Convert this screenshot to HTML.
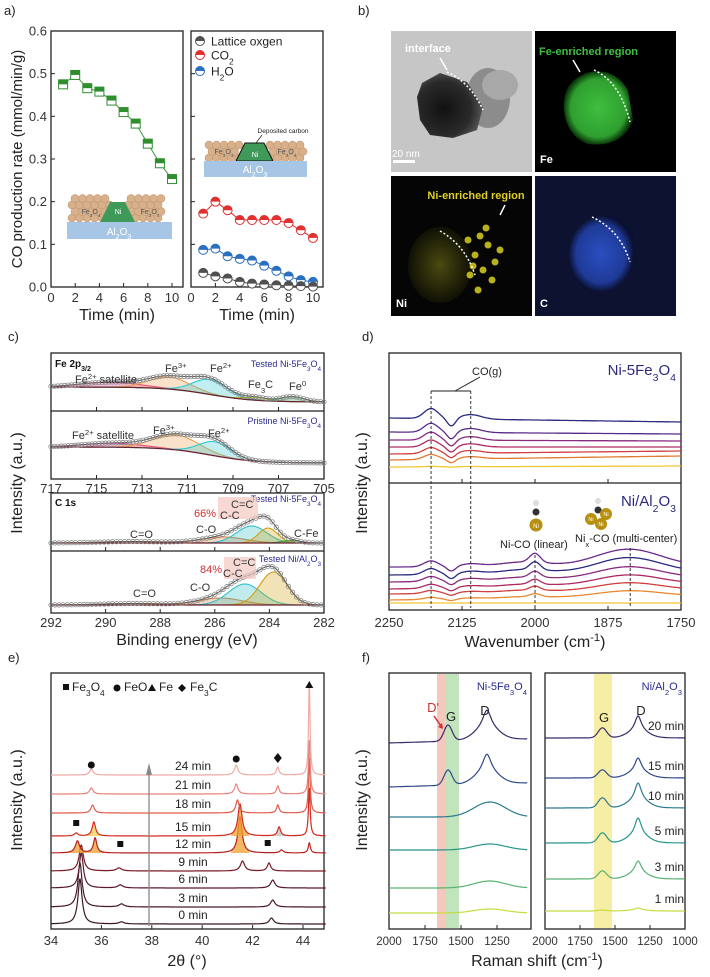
<!DOCTYPE html>
<html><head><meta charset="utf-8"><style>
html,body{margin:0;padding:0;background:#fff;}
svg{display:block;font-family:"Liberation Sans",Arial,sans-serif;}
</style></head><body>
<svg id="fig" width="710" height="977" viewBox="0 0 710 977" xmlns="http://www.w3.org/2000/svg">
<defs>
<radialGradient id="gTem" cx="0.4" cy="0.55" r="0.6"><stop offset="0" stop-color="#111"/><stop offset="0.7" stop-color="#2a2a2a"/><stop offset="1" stop-color="#555"/></radialGradient>
<radialGradient id="gFe" cx="0.5" cy="0.5" r="0.5"><stop offset="0" stop-color="#3fbf3f"/><stop offset="0.8" stop-color="#2f9f2f"/><stop offset="1" stop-color="#0a3a0a"/></radialGradient>
<radialGradient id="gC" cx="0.5" cy="0.5" r="0.5"><stop offset="0" stop-color="#2a4fc0"/><stop offset="0.75" stop-color="#1f3a98"/><stop offset="1" stop-color="#0a1030"/></radialGradient>
<radialGradient id="gNi" cx="0.5" cy="0.5" r="0.5"><stop offset="0" stop-color="#4a4a10"/><stop offset="1" stop-color="#101005"/></radialGradient>
</defs>
</svg>
<script>
const NS='http://www.w3.org/2000/svg';
const svg=document.getElementById('fig');
function mk(tag,attrs,parent){const e=document.createElementNS(NS,tag);for(const k in attrs)e.setAttribute(k,attrs[k]);(parent||svg).appendChild(e);return e;}
const sub=s=>`<tspan baseline-shift="sub" font-size="70%">${s}</tspan>`;
const sup=s=>`<tspan baseline-shift="super" font-size="70%">${s}</tspan>`;
function T(x,y,html,size,anchor,fill,extra){const e=mk('text',Object.assign({x:x,y:y,'font-size':size||13,'text-anchor':anchor||'start',fill:fill||'#222'},extra||{}));e.innerHTML=html;return e;}
function P(pts){return pts.map((p,i)=>(i?'L':'M')+p[0].toFixed(1)+' '+p[1].toFixed(1)).join(' ');}
const gauss=(x,c,s)=>Math.exp(-0.5*((x-c)/s)*((x-c)/s));
const lor=(x,c,w)=>1/(1+((x-c)/w)*((x-c)/w));

/* ================= DATA ================= */
const aTimes=[1,2,3,4,5,6,7,8,9,10];
const aNiFe=[0.475,0.497,0.466,0.458,0.437,0.41,0.383,0.336,0.29,0.253];
const aCO2=[0.172,0.2,0.18,0.157,0.157,0.157,0.157,0.15,0.133,0.115];
const aH2O=[0.087,0.09,0.072,0.066,0.062,0.05,0.038,0.025,0.016,0.012];
const aLattice=[0.033,0.025,0.02,0.012,0.008,0.006,0.004,0.003,0.002,0.001];
const aYTicks=[0,0.1,0.2,0.3,0.4,0.5,0.6];
const aXTicks=[0,2,4,6,8,10];

const feTestedPeaks=[[714.4,5,1.3],[711.8,12,0.9],[710.0,15,0.75],[708.0,3,0.5],[706.4,5,0.5]];
const fePristinePeaks=[[714.3,4,1.3],[711.5,15,1.0],[709.8,14,0.7]];
const cTestedPeaks=[[289.0,1.5,1.2],[285.7,6,0.8],[284.65,17,0.55],[284.05,15,0.35],[283.2,2.5,0.35]];
const cNiAlPeaks=[[289.0,1.5,1.2],[285.8,7,0.8],[284.9,21,0.6],[283.85,33,0.5]];
const feTicks=[717,715,713,711,709,707,705];
const cTicks=[292,290,288,286,284,282];

const dTopTraces=[[418,422,10,0,0],[432,434,9,0,0],[440,441,8,0,0],[447,447,7,0,0],[454,451,6,0,0],[460,456,5,0,0],[467,466,0.5,0,0]];
const dBotTraces=[[567,566,6,9,17],[575,572,6,8,15],[582,578,5,6,12],[589,584,4,5,10],[594,590,3,4,8],[600,596,2,3,6],[603,603,0,0,0]];
const dTicks=[2250,2125,2000,1875,1750];

const eLabels=['0 min','3 min','6 min','9 min','12 min','15 min','18 min','21 min','24 min'];
const eBaselines=[924,907,888,871,853,836,813,794,775];
const ePeaks=[
 [[35.15,45,0.1],[36.8,2,0.12],[42.75,6,0.1]],
 [[35.15,44,0.1],[36.8,3,0.12],[42.8,7,0.1]],
 [[35.2,35,0.1],[36.75,3,0.12],[42.8,8,0.1]],
 [[35.2,26,0.1],[36.7,3,0.12],[41.6,10,0.1],[42.65,8,0.08]],
 [[35.05,12,0.1],[35.75,15,0.08],[41.5,36,0.1],[43.15,3,0.08],[44.25,10,0.05]],
 [[35.0,3,0.08],[35.7,14,0.08],[41.5,32,0.1],[43.05,9,0.07],[44.25,48,0.04]],
 [[35.65,8,0.08],[41.4,13,0.08],[43.0,8,0.06],[44.25,55,0.04]],
 [[35.6,6,0.08],[41.35,10,0.08],[43.0,8,0.06],[44.25,54,0.04]],
 [[35.6,6,0.08],[41.35,10,0.08],[43.0,8,0.06],[44.25,92,0.035]]];
const eTicks=[34,36,38,40,42,44];

const fLabels=['20 min','15 min','10 min','5 min','3 min','1 min'];
const fLeftBase=[743,787,817,850,888,913];
const fLeftG=[16,15,3,1,1,1];
const fLeftD=[30,30,15,6,7,4];
const fRightBase=[738,778,808,843,879,911];
const fRightG=[10,8,10,10,8,1];
const fRightD=[22,20,25,25,18,3];
const fTicksL=[2000,1750,1500,1250];
const fTicksR=[2000,1750,1500,1250,1000];

/* ================= PANEL LETTERS ================= */
[['a)',4,15],['b)',358,15],['c)',8,341],['d)',362,341],['e)',8,662],['f)',362,662]].forEach(l=>{
  const t=T(l[1],l[2],l[0],13,'start','#222');
  
  
});

function box(x,y,w,h,name){const r=mk('rect',{x:x,y:y,width:w,height:h,fill:'none',stroke:'#222','stroke-width':1.3});
  
  return r;}
function ylabel(x,y,s,name,size){const t=T(x,y,s,size||16,'middle','#222',{transform:`rotate(-90 ${x} ${y})`});
  
  }

/* ================= PANEL A ================= */
const ay=v=>287-v/0.6*256;
const axL=t=>51+t*12.1, axR=t=>191+t*12.2;
box(51,31,132,256,'panel-a-left-frame');
box(191,31,132,256,'panel-a-right-frame');
aYTicks.forEach(v=>{
  mk('line',{x1:51,y1:ay(v),x2:55,y2:ay(v),stroke:'#222'});
  mk('line',{x1:191,y1:ay(v),x2:195,y2:ay(v),stroke:'#222'});
  const t=T(47,ay(v)+4.5,v.toFixed(1),13,'end','#333');
  
  
});
aXTicks.forEach(v=>{
  mk('line',{x1:axL(v),y1:287,x2:axL(v),y2:283,stroke:'#222'});
  mk('line',{x1:axR(v),y1:287,x2:axR(v),y2:283,stroke:'#222'});
  let t=T(axL(v),302,String(v),13,'middle','#333');
  
  
  t=T(axR(v),302,String(v),13,'middle','#333');
  
  
});
[[117,'a-left-x-title'],[257,'a-right-x-title']].forEach(o=>{const t=T(o[0],320,'Time (min)',16,'middle','#222');
  
  });
ylabel(22,159,'CO production rate (mmol/min/g)','a-y-axis-title',15);

function spheres(x0,x1,y,rows){for(let r=0;r<rows;r++){for(let x=x0+(r%2)*3;x<=x1;x+=7.5){mk('circle',{cx:x,cy:y-r*6.5,r:4,fill:'#d8b08a',stroke:'#b89070','stroke-width':0.5});}}}
const insL=mk('g',{});


spheres(72,110,218,4);spheres(128,165,218,4);
mk('path',{d:'M100 222 L110 202 L125 202 L135 222 Z',fill:'#3f9a5a'});
mk('rect',{x:67,y:222,width:105,height:17,fill:'#a7c6e6'});
T(119,235,'Al'+sub('2')+'O'+sub('3'),10,'middle','#fff');
T(91,214,'Fe'+sub('3')+'O'+sub('4'),7,'middle','#555');
T(150,214,'Fe'+sub('3')+'O'+sub('4'),7,'middle','#555');
T(118,214,'Ni',7,'middle','#fff');
spheres(209,240,158,3);spheres(270,303,158,3);
mk('path',{d:'M236 161 L245 143 L264 143 L273 161 Z',fill:'#3f9a5a',stroke:'#111','stroke-width':1});
mk('rect',{x:204,y:161,width:103,height:16,fill:'#a7c6e6'});
T(255,173,'Al'+sub('2')+'O'+sub('3'),10,'middle','#fff');
T(224,154,'Fe'+sub('3')+'O'+sub('4'),7,'middle','#555');
T(287,154,'Fe'+sub('3')+'O'+sub('4'),7,'middle','#555');
T(255,157,'Ni',7,'middle','#fff');
T(283,133,'Deposited carbon',6.5,'middle','#222');
mk('line',{x1:262,y1:135,x2:256,y2:143,stroke:'#222','stroke-width':0.7});

function lineSeries(xs,ys,xf,color,name){const p=mk('path',{d:P(xs.map((t,i)=>[xf(t),ay(ys[i])])),fill:'none',stroke:color,'stroke-width':1});
  
  }
function halfCircle(cx,cy,color,name){const g=mk('g',{});
  
  
  mk('circle',{cx:cx,cy:cy,r:4.5,fill:'#fff',stroke:color,'stroke-width':1},g);
  mk('path',{d:`M${cx-4.5} ${cy} A4.5 4.5 0 0 1 ${cx+4.5} ${cy} Z`,fill:color},g);}
lineSeries(aTimes,aNiFe,axL,'#3a9a3a','ni-fe3o4-line');
aTimes.forEach((t,i)=>{const x=axL(t),y=ay(aNiFe[i]);const g=mk('g',{});
  
  
  mk('rect',{x:x-4.5,y:y-4.5,width:9,height:9,fill:'#fff',stroke:'#2f8f2f','stroke-width':1},g);
  mk('rect',{x:x-4.5,y:y-4.5,width:9,height:4.5,fill:'#2f8f2f'},g);});
const rSeries=[[aCO2,'#e03030','co2'],[aH2O,'#2a6fc0','h2o'],[aLattice,'#505050','lattice-oxygen']];
rSeries.forEach(s=>{lineSeries(aTimes,s[0],axR,s[1],s[2]+'-line');
  aTimes.forEach((t,i)=>halfCircle(axR(t),ay(s[0][i]),s[1],s[2]+'-point'));});
[[41,'#505050','Lattice oxgen','legend-lattice-oxygen'],[55,'#e03030','CO'+sub('2'),'legend-co2'],[71,'#2a6fc0','H'+sub('2')+'O','legend-h2o']].forEach(l=>{
  halfCircle(200,l[0],l[1],l[3]+'-marker');
  const t=T(211,l[0]+4.5,l[2],12,'start','#222');
  
  });

/* ================= PANEL B ================= */
const bTem=mk('g',{});


mk('rect',{x:391,y:31,width:141,height:141,fill:'#c6c6c6'},bTem);
mk('ellipse',{cx:488,cy:98,rx:22,ry:30,fill:'#8c8c8c'},bTem);
mk('ellipse',{cx:500,cy:85,rx:18,ry:15,fill:'#a8a8a8'},bTem);
mk('path',{d:'M422 83 L440 73 L467 82 L483 107 L477 130 L453 138 L430 135 L420 120 L417 97 Z',fill:'url(#gTem)'},bTem);
mk('path',{d:'M447 72 Q470 82 483 110',fill:'none',stroke:'#fff','stroke-width':1.5,'stroke-dasharray':'2 2'},bTem);
mk('rect',{x:393,y:160,width:22,height:3,fill:'#fff'},bTem);
T(392,157,'20 nm',10,'start','#fff');
T(405,52,'interface',11,'start','#fff',{'font-weight':'bold'});
mk('line',{x1:440,y1:58,x2:447,y2:70,stroke:'#fff','stroke-width':1.5},bTem);

const bFe=mk('g',{});


mk('rect',{x:535,y:31,width:141,height:141,fill:'#000'},bFe);
mk('path',{d:'M564 110 Q562 80 590 72 Q615 68 628 90 L633 120 Q622 148 588 144 Q566 135 564 110 Z',fill:'url(#gFe)'},bFe);
mk('path',{d:'M594 70 Q620 82 630 122',fill:'none',stroke:'#fff','stroke-width':1.5,'stroke-dasharray':'2 2'},bFe);
T(539,55,'Fe-enriched region',11,'start','#3fbf3f',{'font-weight':'bold'});
mk('line',{x1:573,y1:60,x2:580,y2:72,stroke:'#fff','stroke-width':1.5},bFe);
T(540,163,'Fe',11,'start','#fff',{'font-weight':'bold'});

const bNi=mk('g',{});


mk('rect',{x:391,y:176,width:141,height:140,fill:'#050505'},bNi);
mk('ellipse',{cx:440,cy:265,rx:32,ry:38,fill:'url(#gNi)'},bNi);
[[480,236],[488,245],[475,255],[495,262],[483,270],[470,275],[492,280],[478,290],[500,250],[468,240],[486,228],[473,266]].forEach(p=>mk('circle',{cx:p[0],cy:p[1],r:3.5,fill:'#d8d020',opacity:0.85},bNi));
mk('path',{d:'M440 231 Q465 245 475 275',fill:'none',stroke:'#fff','stroke-width':1.5,'stroke-dasharray':'2 2'},bNi);
T(476,199,'Ni-enriched region',11,'middle','#e0d020',{'font-weight':'bold'});
mk('line',{x1:505,y1:205,x2:500,y2:215,stroke:'#fff','stroke-width':1.5},bNi);
T(396,307,'Ni',11,'start','#fff',{'font-weight':'bold'});

const bC=mk('g',{});


mk('rect',{x:535,y:176,width:141,height:140,fill:'#0c1230'},bC);
mk('path',{d:'M568 255 Q570 225 598 216 Q625 212 634 235 L634 265 Q622 295 592 292 Q570 284 568 255 Z',fill:'url(#gC)'},bC);
mk('path',{d:'M592 217 Q620 230 630 262',fill:'none',stroke:'#fff','stroke-width':1.5,'stroke-dasharray':'2 2'},bC);
T(540,307,'C',11,'start','#fff',{'font-weight':'bold'});

/* ================= PANEL C ================= */
box(51,353,273,126,'c-fe-frame');
mk('line',{x1:51,y1:411,x2:324,y2:411,stroke:'#222','stroke-width':1.2});
box(51,493,273,120,'c-c1s-frame');
mk('line',{x1:51,y1:551,x2:324,y2:551,stroke:'#222','stroke-width':1.2});
const xFe=E=>51+(717-E)/12*273, xC=E=>51+(292-E)/10*273;
feTicks.forEach(v=>{mk('line',{x1:xFe(v),y1:479,x2:xFe(v),y2:475,stroke:'#222'});mk('line',{x1:xFe(v),y1:411,x2:xFe(v),y2:407,stroke:'#222'});
  const t=T(xFe(v),493,String(v),13,'middle','#333');
  
  });
cTicks.forEach(v=>{mk('line',{x1:xC(v),y1:613,x2:xC(v),y2:609,stroke:'#222'});mk('line',{x1:xC(v),y1:551,x2:xC(v),y2:547,stroke:'#222'});
  const t=T(xC(v),627,String(v),13,'middle','#333');
  
  });
let tt=T(187,645,'Binding energy (eV)',16,'middle','#222');


ylabel(22,483,'Intensity (a.u.)','c-y-axis-title');
const feColors=['#e0308a','#f0a050','#30c8d0','#b0b020','#30a060'];
const cColors=['#e08040','#e08040','#30c0c8','#d0a010','#40a040'];
function xps(peaks,colors,xf,e0,e1,bgL,bgR,bgC,name){
  const bg=E=>bgR+(bgL-bgR)/(1+Math.exp(-(E-bgC)/1.0));
  const Es=[];for(let E=e0;E>=e1-1e-6;E-=0.05)Es.push(E);
  peaks.forEach((pk,i)=>{const top=Es.map(E=>[xf(E),bg(E)-pk[1]*gauss(E,pk[0],pk[2])]);
    const bot=Es.slice().reverse().map(E=>[xf(E),bg(E)]);
    const f=mk('path',{d:P(top.concat(bot))+'Z',fill:colors[i],'fill-opacity':0.3,stroke:'none'});
    
    
    const l=mk('path',{d:P(top),fill:'none',stroke:colors[i],'stroke-width':1.1});
    
    });
  const b=mk('path',{d:P(Es.map(E=>[xf(E),bg(E)])),fill:'none',stroke:'#6a2030','stroke-width':1.2});
  
  
  const env=E=>bg(E)-peaks.reduce((s,pk)=>s+pk[1]*gauss(E,pk[0],pk[2]),0);
  const ev=mk('path',{d:P(Es.map(E=>[xf(E),env(E)])),fill:'none',stroke:'#555','stroke-width':1});
  
  
  for(let k=0;k<Es.length;k+=3){const c=mk('circle',{cx:xf(Es[k]),cy:env(Es[k]),r:2.2,fill:'none',stroke:'#888','stroke-width':0.8});
    
    }
}
xps(feTestedPeaks,feColors,xFe,717,705,387,402,710,'fe-tested');
xps(fePristinePeaks,feColors,xFe,717,705,447,463,710,'fe-pristine');
xps(cTestedPeaks,cColors,xC,292,282,543,543,284,'c-tested');
xps(cNiAlPeaks,cColors,xC,292,282,605,605,284,'c-nial');
T(55,367,'Fe 2p'+sub('3/2'),10,'start','#111',{'font-weight':'bold'});
T(321,367,'Tested Ni-5Fe'+sub('3')+'O'+sub('4'),9,'end','#2a2a90');
T(321,424,'Pristine Ni-5Fe'+sub('3')+'O'+sub('4'),9,'end','#2a2a90');
T(75,383,'Fe'+sup('2+')+' satellite',11,'start','#333');
T(165,372,'Fe'+sup('3+'),11,'start','#333');
T(210,372,'Fe'+sup('2+'),11,'start','#333');
T(248,388,'Fe'+sub('3')+'C',11,'start','#333');
T(289,390,'Fe'+sup('0'),11,'start','#333');
T(72,439,'Fe'+sup('2+')+' satellite',11,'start','#333');
T(153,434,'Fe'+sup('3+'),11,'start','#333');
T(208,437,'Fe'+sup('2+'),11,'start','#333');
T(55,506,'C 1s',10,'start','#111',{'font-weight':'bold'});
T(321,502,'Tested Ni-5Fe'+sub('3')+'O'+sub('4'),9,'end','#2a2a90');
T(321,562,'Tested Ni/Al'+sub('2')+'O'+sub('3'),9,'end','#2a2a90');
mk('rect',{x:218,y:497,width:40,height:22,fill:'#f3c8c0',opacity:0.7});
T(216,517,'66%',11,'end','#d03030');
T(231,508,'C=C',11,'start','#333');T(220,519,'C-C',11,'start','#333');
T(130,538,'C=O',11,'start','#333');T(196,533,'C-O',11,'start','#333');T(294,537,'C-Fe',11,'start','#333');
mk('rect',{x:224,y:557,width:32,height:22,fill:'#f3c8c0',opacity:0.7});
T(222,573,'84%',11,'end','#d03030');
T(233,566,'C=C',11,'start','#333');T(223,577,'C-C',11,'start','#333');
T(133,597,'C=O',11,'start','#333');T(190,591,'C-O',11,'start','#333');

/* ================= PANEL D ================= */
box(389,353,292,257,'d-frame');
mk('line',{x1:389,y1:483,x2:681,y2:483,stroke:'#222','stroke-width':1.2});
const xD=w=>389+(2250-w)/500*292;
dTicks.forEach(v=>{mk('line',{x1:xD(v),y1:610,x2:xD(v),y2:606,stroke:'#222'});mk('line',{x1:xD(v),y1:483,x2:xD(v),y2:479,stroke:'#222'});
  const t=T(xD(v),627,String(v),13,'middle','#333');
  
  });
tt=T(535,647,'Wavenumber (cm'+sup('-1')+')',16,'middle','#222');


ylabel(367,483,'Intensity (a.u.)','d-y-axis-title');
const dTopColors=['#2a2a80','#5a2a8a','#8a2a80','#b02a60','#d04040','#e07a30','#f0c830'];
const dBotColors=['#6a2a8a','#2a2a80','#8a2a80','#b02a60','#d04040','#e88a30','#f0c830'];
function drift(tr,color,name){const pts=[];for(let w=2250;w>=1750;w-=2){
  const base=tr[0]+(tr[1]-tr[0])*(2250-w)/500;
  const y=base-tr[2]*gauss(w,2178,12)+0.8*tr[2]*gauss(w,2143,7)-0.45*tr[2]*gauss(w,2110,18)-tr[3]*gauss(w,2000,9)-0.5*tr[3]*gauss(w,2020,40)-tr[4]*gauss(w,1840,55);
  pts.push([xD(w),y]);}
  const p=mk('path',{d:P(pts),fill:'none',stroke:color,'stroke-width':1.3});
  
  }
dTopTraces.forEach((tr,i)=>drift(tr,dTopColors[i],'ni-5fe3o4-drifts-trace'));
dBotTraces.forEach((tr,i)=>drift(tr,dBotColors[i],'ni-al2o3-drifts-trace'));
[[2178,391],[2110,391],[2000,555],[1837,548]].forEach(d=>{const l=mk('line',{x1:xD(d[0]),y1:d[1],x2:xD(d[0]),y2:608,stroke:'#222','stroke-dasharray':'3 2','stroke-width':0.9});
  
  });
mk('line',{x1:xD(2178),y1:391,x2:xD(2110),y2:391,stroke:'#222','stroke-width':1});
mk('line',{x1:480,y1:377,x2:455,y2:391,stroke:'#222','stroke-width':1});
T(472,375,'CO(g)',11,'start','#222');
T(676,375,'Ni-5Fe'+sub('3')+'O'+sub('4'),15,'end','#2a2a80');
T(676,506,'Ni/Al'+sub('2')+'O'+sub('3'),15,'end','#2a2a80');
mk('circle',{cx:536,cy:503,r:3,fill:'#ddd'});mk('circle',{cx:536,cy:512,r:3.5,fill:'#333'});mk('circle',{cx:536,cy:525,r:6.5,fill:'#b8900f'});
T(536,528,'Ni',6,'middle','#fff');
T(500,548,'Ni-CO (linear)',11,'start','#222');
mk('circle',{cx:598,cy:501,r:3,fill:'#ddd'});mk('circle',{cx:598,cy:510,r:3.5,fill:'#333'});
[[591,519],[606,514],[601,524]].forEach(p=>{mk('circle',{cx:p[0],cy:p[1],r:6,fill:'#b8900f'});T(p[0],p[1]+2,'Ni',5.5,'middle','#fff');});
T(575,542,'Ni'+sub('x')+'-CO (multi-center)',11,'start','#222');

/* ================= PANEL E ================= */
box(51,673,273,256,'e-frame');
const xE=t=>51+(t-34)*25.2;
eTicks.forEach(v=>{mk('line',{x1:xE(v),y1:929,x2:xE(v),y2:925,stroke:'#222'});
  const t=T(xE(v),945,String(v),13,'middle','#333');
  
  });
tt=T(187,966,'2θ (°)',16,'middle','#222');


ylabel(22,800,'Intensity (a.u.)','e-y-axis-title');
const eColors=['#3a1a22','#4a1a28','#5a1a2a','#7a1a24','#b8201e','#d42a20','#e05a48','#e8807a','#f0aaa4'];
const eFillPeaks={4:[[35.05,'#f0a030'],[35.75,'#f0a030'],[41.5,'#f0a030']],5:[[35.7,'#f8d050'],[41.5,'#f0a030'],[43.05,'#c0c0c0']]};
ePeaks.forEach((pk,i)=>{
  const yb=eBaselines[i];
  const f=t=>yb-pk.reduce((s,p)=>s+p[1]*lor(t,p[0],p[2]),0);
  if(eFillPeaks[i])eFillPeaks[i].forEach(fp=>{const pts=[];for(let t=fp[0]-0.35;t<=fp[0]+0.35;t+=0.01)pts.push([xE(t),f(t)]);
    const fe=mk('path',{d:P(pts)+`L${xE(fp[0]+0.35)} ${yb} L${xE(fp[0]-0.35)} ${yb}Z`,fill:fp[1],opacity:0.75});
    
    });
  const pts=[];for(let t=34;t<=44.9;t+=0.01)pts.push([xE(t),f(t)]);
  const p=mk('path',{d:P(pts),fill:'none',stroke:eColors[i],'stroke-width':1.2});
  
  
  const l=T(193,yb-5,eLabels[i],12,'middle','#222');
  
  
});
mk('line',{x1:149,y1:926,x2:149,y2:770,stroke:'#888','stroke-width':1.3});
mk('path',{d:'M146 775 L149 763 L152 775 Z',fill:'#888'});
mk('rect',{x:63,y:684,width:6,height:6,fill:'#111'});
T(72,691,'Fe'+sub('3')+'O'+sub('4'),12,'start','#222');
mk('circle',{cx:117,cy:688,r:3.5,fill:'#111'});T(124,691,'FeO',12,'start','#222');
mk('path',{d:'M148 691 L152 684 L156 691 Z',fill:'#111'});T(159,691,'Fe',12,'start','#222');
mk('path',{d:'M182 684 L186 688 L182 692 L178 688 Z',fill:'#111'});T(190,691,'Fe'+sub('3')+'C',12,'start','#222');
mk('circle',{cx:xE(35.6),cy:765,r:3.5,fill:'#111'});mk('circle',{cx:xE(41.35),cy:759,r:3.5,fill:'#111'});
mk('path',{d:`M${xE(43)} 753 L${xE(43)+4} 758 L${xE(43)} 763 L${xE(43)-4} 758 Z`,fill:'#111'});
mk('path',{d:`M${xE(44.25)-4} 688 L${xE(44.25)} 681 L${xE(44.25)+4} 688 Z`,fill:'#111'});
[[35.0,823],[36.75,844],[42.6,843]].forEach(s=>mk('rect',{x:xE(s[0])-3,y:s[1]-3,width:6,height:6,fill:'#111'}));

/* ================= PANEL F ================= */
box(389,673,142,256,'f-left-frame');
box(545,673,140,256,'f-right-frame');
const xFL=w=>389+(2000-w)*0.144, xFR=w=>545+(2000-w)*0.14;
mk('rect',{x:437,y:674,width:9,height:254,fill:'#f0b0a0',opacity:0.7});
mk('rect',{x:446,y:674,width:13,height:254,fill:'#a8d8a0',opacity:0.7});
mk('rect',{x:594,y:674,width:18,height:254,fill:'#f5ea90',opacity:0.8});
fTicksL.forEach(v=>{mk('line',{x1:xFL(v),y1:929,x2:xFL(v),y2:925,stroke:'#222'});
  const t=T(xFL(v),945,String(v),11.5,'middle','#333');
  
  });
fTicksR.forEach(v=>{mk('line',{x1:xFR(v),y1:929,x2:xFR(v),y2:925,stroke:'#222'});
  const t=T(xFR(v),945,String(v),11.5,'middle','#333');
  
  });
tt=T(537,966,'Raman shift (cm'+sup('-1')+')',16,'middle','#222');


ylabel(367,800,'Intensity (a.u.)','f-y-axis-title');
const fColors=['#3a2a6a','#2f4a8a','#2a7a90','#27958a','#5ab070','#c8dc40'];
fLabels.forEach((lab,i)=>{
  const pl=[];for(let w=2000;w>=1040;w-=3){const broad=(i>=2?fLeftD[i]*gauss(w,1300,110):0);
    const y=fLeftBase[i]-(i<2?fLeftG[i]*gauss(w,1590,28)+fLeftD[i]*(0.6*lor(w,1320,35)+0.4*gauss(w,1320,80)):broad)-(i<2?(2000-w)*0.004:0);
    pl.push([xFL(w),y]);}
  let p=mk('path',{d:P(pl),fill:'none',stroke:fColors[i],'stroke-width':1.2});
  
  
  const pr=[];for(let w=2000;w>=1000;w-=3){const y=fRightBase[i]-fRightG[i]*gauss(w,1590,30)-fRightD[i]*(0.7*lor(w,1335,28)+0.3*gauss(w,1335,70));pr.push([xFR(w),y]);}
  p=mk('path',{d:P(pr),fill:'none',stroke:fColors[i],'stroke-width':1.2});
  
  
  const t=T(684,fRightBase[i]-8,lab,12,'end','#222');
  
  
});
T(527,690,'Ni-5Fe'+sub('3')+'O'+sub('4'),11,'end','#2a2a90');
T(682,690,'Ni/Al'+sub('2')+'O'+sub('3'),11,'end','#2a2a90');
T(433,712,"D'",13,'middle','#d03030');
mk('line',{x1:434,y1:716,x2:441,y2:726,stroke:'#d03030','stroke-width':1.5});
mk('path',{d:'M438 727 L443 729 L442 723 Z',fill:'#d03030'});
T(451,721,'G',13,'middle','#222');T(485,715,'D',13,'middle','#222');
T(604,722,'G',13,'middle','#222');T(641,715,'D',13,'middle','#222');
</script>
</body></html>
